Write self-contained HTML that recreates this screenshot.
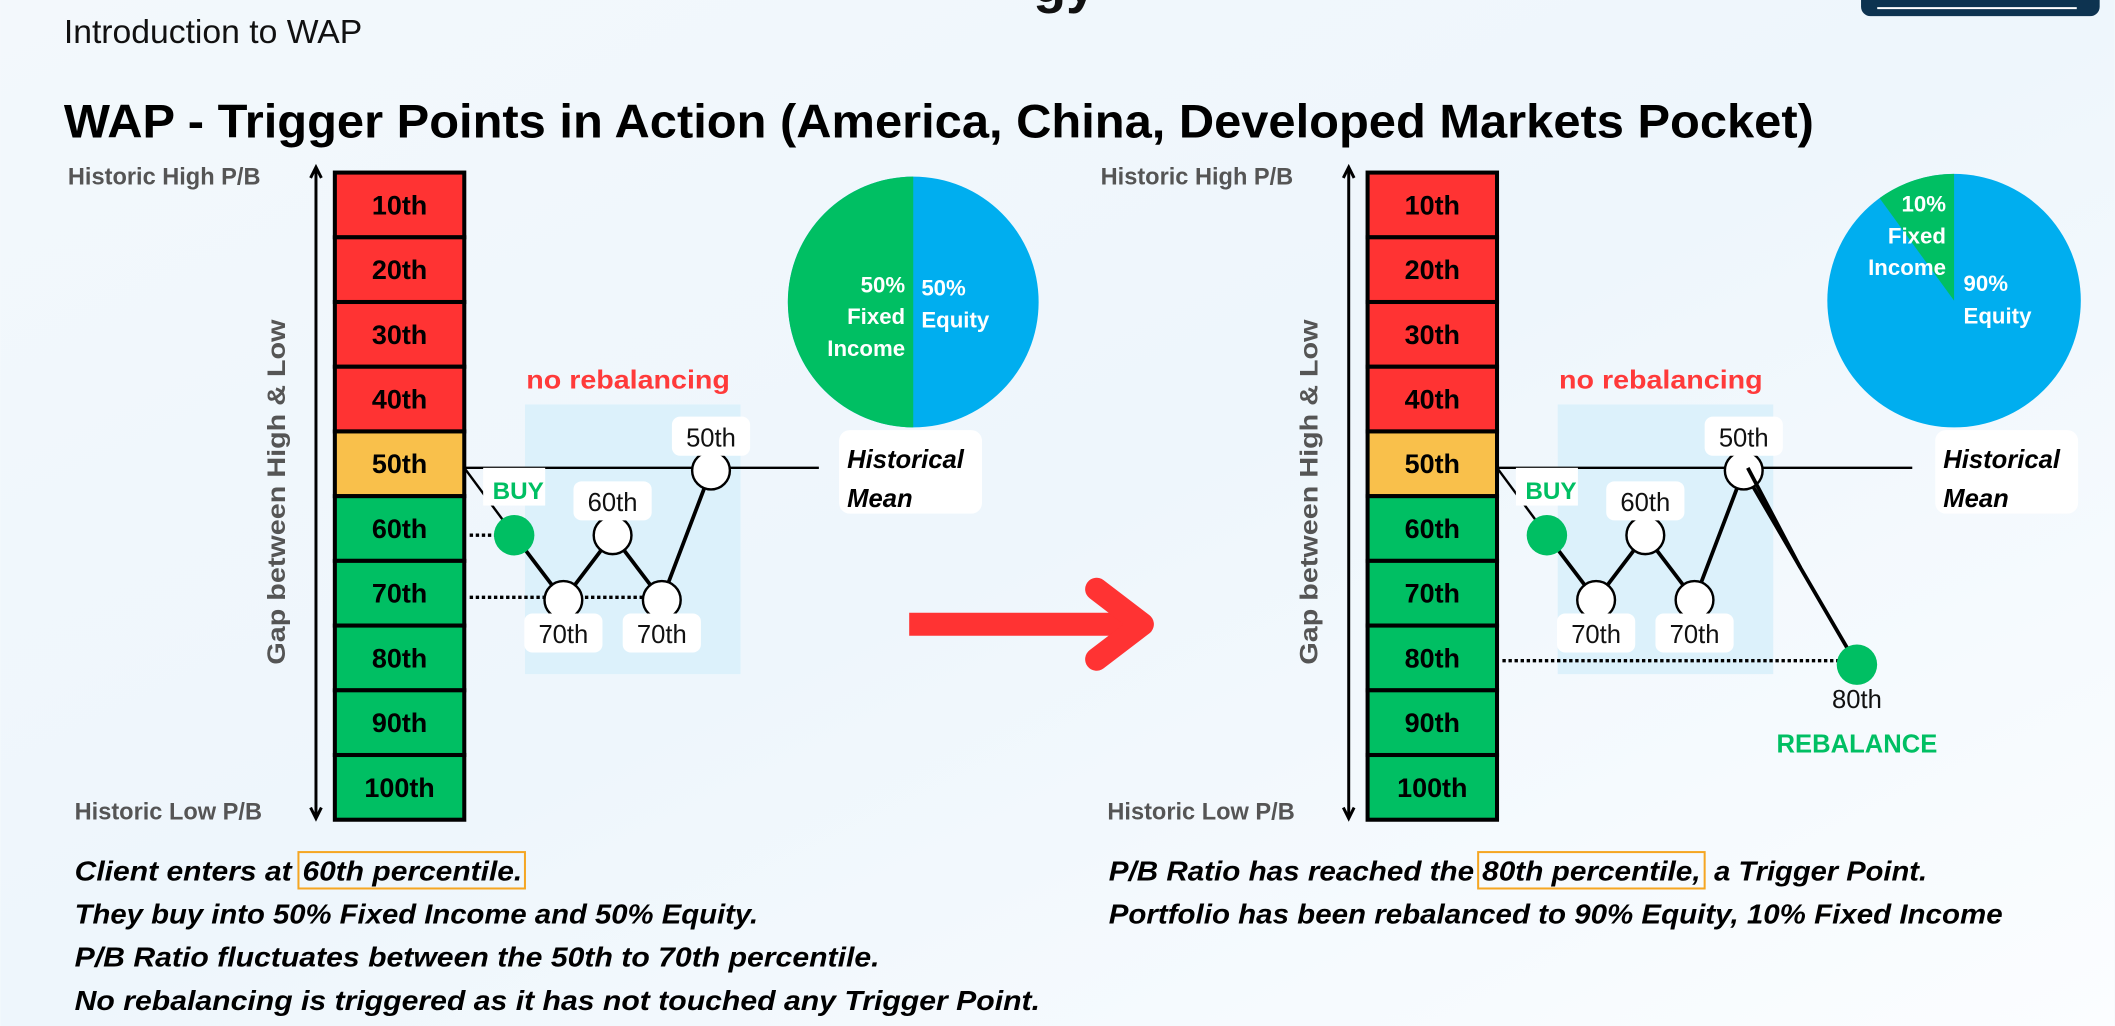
<!DOCTYPE html>
<html><head><meta charset="utf-8">
<style>
html,body{margin:0;padding:0;width:2115px;height:1026px;overflow:hidden;background:#f4f9fd;}
svg{display:block;}
text{font-family:"Liberation Sans",sans-serif;}
</style></head>
<body>
<svg id="root" width="2115" height="1026" viewBox="0 0 1568 761" xmlns="http://www.w3.org/2000/svg">
<defs>
<linearGradient id="bg" x1="0" y1="0" x2="1" y2="1">
<stop offset="0" stop-color="#f3f8fc"/><stop offset="0.5" stop-color="#eef6fc"/><stop offset="1" stop-color="#fbfdff"/>
</linearGradient>
</defs>
<rect x="0" y="0" width="1568" height="761" fill="url(#bg)"/>
<text x="766" y="2" font-size="40" font-weight="bold" fill="#111">gy</text>
<rect x="1380" y="-10" width="177" height="22" rx="7" fill="#0d3350"/>
<line x1="1392" y1="6" x2="1540" y2="6" stroke="#fff" stroke-width="1.5"/>
<text x="47" y="32" font-size="25" fill="#111">Introduction to WAP</text>
<text x="47" y="102" font-size="35" font-weight="bold" fill="#000" textLength="1298" lengthAdjust="spacingAndGlyphs">WAP - Trigger Points in Action (America, China, Developed Markets Pocket)</text>

<g id="panels"></g>

<g stroke="#ff3333" stroke-linecap="round" stroke-linejoin="round" fill="none">
<line x1="674" y1="463" x2="838" y2="463" stroke-width="17" stroke-linecap="butt"/>
<polyline points="813,437 847,463 813,489" stroke-width="17"/>
</g>

<g font-size="20.5" font-weight="bold" font-style="italic" fill="#000">
<rect x="221" y="632" width="168" height="27" fill="none" stroke="#f5a623" stroke-width="1.5"/>
<text x="55" y="653" textLength="161" lengthAdjust="spacingAndGlyphs">Client enters at</text>
<text x="224" y="653" textLength="163" lengthAdjust="spacingAndGlyphs">60th percentile.</text>
<text x="55" y="685" textLength="507" lengthAdjust="spacingAndGlyphs">They buy into 50% Fixed Income and 50% Equity.</text>
<text x="55" y="717" textLength="597" lengthAdjust="spacingAndGlyphs">P/B Ratio fluctuates between the 50th to 70th percentile.</text>
<text x="55" y="749" textLength="716" lengthAdjust="spacingAndGlyphs">No rebalancing is triggered as it has not touched any Trigger Point.</text>
</g>
<g font-size="20.5" font-weight="bold" font-style="italic" fill="#000">
<rect x="1096" y="632" width="168" height="27" fill="none" stroke="#f5a623" stroke-width="1.5"/>
<text x="822" y="653" textLength="271" lengthAdjust="spacingAndGlyphs">P/B Ratio has reached the</text>
<text x="1099" y="653" textLength="162" lengthAdjust="spacingAndGlyphs">80th percentile,</text>
<text x="1271" y="653" textLength="158" lengthAdjust="spacingAndGlyphs">a Trigger Point.</text>
<text x="822" y="685" textLength="663" lengthAdjust="spacingAndGlyphs">Portfolio has been rebalanced to 90% Equity, 10% Fixed Income</text>
</g>
</svg>
<script>
// ---- data ----
const percentiles = [10,20,30,40,50,60,70,80,90,100];
const cellColors = ["red","red","red","red","yellow","green","green","green","green","green"];
const leftPath = [60,70,60,70,50];
const leftSteps = [0,1,2,3,4];
const rightPath = [60,70,60,70,50,80];
const rightSteps = [0,1,2,3,4,6.3];
const leftPieShares = [50,50];   // fixed income, equity
const rightPieShares = [10,90];
const leftPieLabels = [["50%","Fixed","Income"],["50%","Equity"]];
const rightPieLabels = [["10%","Fixed","Income"],["90%","Equity"]];

const NS = "http://www.w3.org/2000/svg";
const COL = {red:"#ff3333",yellow:"#f9c04b",green:"#00bf63",blue:"#00aeef"};
function mk(tag, attrs, parent){const e=document.createElementNS(NS,tag);for(const k in attrs)e.setAttribute(k,attrs[k]);parent.appendChild(e);return e;}
function txt(parent, x, y, s, attrs){const t=mk("text",Object.assign({x:x,y:y},attrs),parent);t.textContent=s;return t;}

const panels=document.getElementById("panels");

function drawPanel(ox, path, steps, pieShares, pieLabels, pieCx, pieCy, pieR, rebalance){
  const g=mk("g",{},panels);
  
  
  const barX=248+ox, barTop=128, cellH=48, barW=96;
  const yOf = p => barTop + (p/10 - 0.5)*cellH;
  const xOf = s => 381+ox + s*36.5;

  const hi=txt(g,50+ox,137,"Historic High P/B",{"font-size":"17.5","font-weight":"bold",fill:"#555"});
  
  
  const lo=txt(g,55+ox,608,"Historic Low P/B",{"font-size":"17.5","font-weight":"bold",fill:"#555"});
  
  
  const gap=txt(g,0,0,"Gap between High & Low",{"font-size":"18.5","font-weight":"bold",fill:"#555","text-anchor":"middle",transform:`translate(${211+ox},365) rotate(-90)`,textLength:"256",lengthAdjust:"spacingAndGlyphs"});
  
  
  const ax=mk("g",{stroke:"#000","stroke-width":"2.2",fill:"none"},g);
  
  
  mk("line",{x1:234+ox,y1:125,x2:234+ox,y2:606},ax);
  mk("polyline",{points:`${230+ox},132 ${234+ox},124 ${238+ox},132`},ax);
  mk("polyline",{points:`${230+ox},599 ${234+ox},607 ${238+ox},599`},ax);

  percentiles.forEach((p,i)=>{
    const c=mk("g",{},g);
    
    
    const y=yOf(p)-cellH/2;
    mk("rect",{x:barX,y:y,width:barW,height:cellH,fill:COL[cellColors[i]],stroke:"#000","stroke-width":"3"},c);
    txt(c,barX+barW/2,y+cellH/2+7,p+"th",{"font-size":"20","font-weight":"bold","text-anchor":"middle",fill:"#000"});
  });

  const bx = xOf(0.22), bw = xOf(4.6)-bx;
  const reg=mk("rect",{x:bx,y:300,width:bw,height:200,fill:"#dcf1fb"},g);
  
  
  const nr=txt(g,390+ox,288,"no rebalancing",{"font-size":"19.5","font-weight":"bold",fill:"#ff3a3a",textLength:"151",lengthAdjust:"spacingAndGlyphs"});
  
  

  const ml=mk("line",{x1:barX+barW,y1:yOf(50)+3,x2:rebalance?1418:607,y2:yOf(50)+3,stroke:"#000","stroke-width":"1.8"},g);
  
  
  mk("line",{x1:barX+barW,y1:yOf(50)+3,x2:xOf(0),y2:yOf(path[0])+5,stroke:"#000","stroke-width":"1.8"},g);

  const dots=(y,x2)=>{const d=mk("line",{x1:barX+barW+4,y1:y,x2:x2,y2:y,stroke:"#000","stroke-width":"2.5","stroke-dasharray":"2.5 2"},g);
    
    };
  if(!rebalance){dots(yOf(path[0])+5,xOf(0)-12);dots(yOf(70)+3,xOf(3));}
  else{dots(yOf(path[path.length-1])+2,xOf(steps[steps.length-1])-14);}

  const pl=mk("polyline",{points:path.map((p,i)=>xOf(steps[i])+","+(yOf(p)+5)).join(" "),fill:"none",stroke:"#000","stroke-width":"2.8"},g);
  
  

  path.forEach((p,i)=>{
    const last=i===path.length-1;
    const green = i===0 || (rebalance && last);
    const cx=xOf(steps[i]), cy=yOf(p)+5;
    const n=mk("circle",{cx:cx,cy:cy,r:green?15:14,fill:green?COL.green:"#fff",stroke:green?"none":"#000","stroke-width":"1.8"},g);
    
    
  });
  if(rebalance){
    const i=path.length-1;
    const ov=mk("line",{x1:xOf(steps[i-1])+3,y1:yOf(path[i-1])+3,x2:(xOf(steps[i-1])+xOf(steps[i]))/2,y2:(yOf(path[i-1])+yOf(path[i]))/2+5,stroke:"#000","stroke-width":"2.8"},g);
    
    
  }

  path.forEach((p,i)=>{
    if(i===0) return;
    if(rebalance && i===path.length-1) return;
    const cx=xOf(steps[i]), cy=yOf(p)+5;
    const ly = p>=70 ? cy+28 : cy-22;
    const lg=mk("g",{},g);
    
    
    mk("rect",{x:cx-29,y:ly-18,width:58,height:29,rx:6,fill:"#fff"},lg);
    txt(lg,cx,ly+4,p+"th",{"font-size":"19","text-anchor":"middle",fill:"#111"});
  });
  const bg=mk("g",{},g);
  
  
  mk("rect",{x:xOf(0)-23,y:yOf(path[0])-45,width:46,height:28,fill:"#fff"},bg);
  txt(bg,xOf(0)+3,yOf(path[0])-22,"BUY",{"font-size":"18","font-weight":"bold","text-anchor":"middle",fill:COL.green});
  if(rebalance){
    const rg=mk("g",{},g);
    
    
    const rx=xOf(steps[steps.length-1]);
    txt(rg,rx,yOf(80)+37,"80th",{"font-size":"19","text-anchor":"middle",fill:"#111"});
    txt(rg,rx,yOf(80)+70,"REBALANCE",{"font-size":"19","font-weight":"bold","text-anchor":"middle",fill:COL.green});
  }

  const hm=mk("g",{},g);
  
  
  const hx = rebalance?1441:628;
  mk("rect",{x:hx-6,y:yOf(50)-25,width:106,height:62,rx:8,fill:"#fff"},hm);
  txt(hm,hx,yOf(50)+3,"Historical",{"font-size":"19","font-weight":"bold","font-style":"italic",fill:"#000"});
  txt(hm,hx,yOf(50)+32,"Mean",{"font-size":"19","font-weight":"bold","font-style":"italic",fill:"#000"});

  const pg=mk("g",{},g);
  
  
  const total=pieShares[0]+pieShares[1];
  const fiAng = pieShares[0]/total*2*Math.PI;
  mk("circle",{cx:pieCx,cy:pieCy,r:pieR,fill:COL.blue},pg);
  const a1=-Math.PI/2-fiAng;
  const large = fiAng>Math.PI?1:0;
  const sl=mk("path",{d:`M${pieCx},${pieCy} L${pieCx},${pieCy-pieR} A${pieR},${pieR} 0 ${large} 0 ${pieCx+pieR*Math.cos(a1)},${pieCy+pieR*Math.sin(a1)} Z`,fill:COL.green},pg);
  
  
  const fiY = rebalance? pieCy-66 : pieCy-7;
  pieLabels[0].forEach((s,i)=>txt(pg,pieCx-6,fiY+i*23.5,s,{"font-size":"16.5","font-weight":"bold","text-anchor":"end",fill:"#fff"}));
  const eqY = rebalance? pieCy-7 : pieCy-5;
  const eqX = rebalance? pieCx+7 : pieCx+6;
  pieLabels[1].forEach((s,i)=>txt(pg,eqX,eqY+i*24,s,{"font-size":"16.5","font-weight":"bold",fill:"#fff"}));
}

drawPanel(0,leftPath,leftSteps,leftPieShares,leftPieLabels,677,224,93,false);
drawPanel(766,rightPath,rightSteps,rightPieShares,rightPieLabels,1449,223,94,true);
</script>
</body></html>
